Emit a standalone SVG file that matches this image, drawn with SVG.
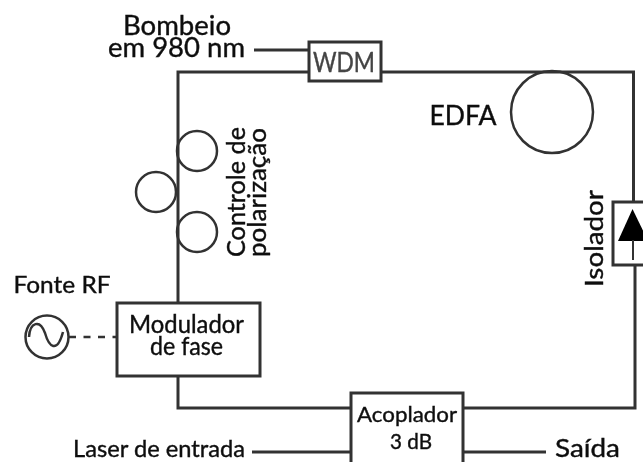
<svg xmlns="http://www.w3.org/2000/svg" width="643" height="462" viewBox="0 0 643 462">
<style>
.l{fill:none;stroke:#333;stroke-width:3}
.c{fill:none;stroke:#333;stroke-width:2.5}
.b{fill:#fff;stroke:#333;stroke-width:3}
text{font-family:Lato,"Open Sans",sans-serif;fill:#111;stroke:#111;stroke-width:0.4;text-anchor:middle}
</style>
<defs><filter id="soft" x="0" y="0" width="100%" height="100%"><feGaussianBlur stdDeviation="0.5"/></filter></defs>
<rect width="643" height="462" fill="#fff"/>
<g filter="url(#soft)">
<g id="connectors">
<path class="l" d="M309 72H178V303M178 376V408H351M463 408H635V265M633.500 202V72H381"/>
<path class="l" d="M254 50H309"/>
<path class="l" d="M252 452H351M463 452H546"/>
<path class="c" d="M69 337H116" stroke-dasharray="7 7.500"/>
</g>
<g id="wdm"><rect class="b" x="309" y="42" width="72" height="39"/><text x="344" y="72" font-size="26" style="fill:#444;stroke:#444" textLength="62" lengthAdjust="spacingAndGlyphs">WDM</text></g>
<g id="bombeio"><text x="177" y="35" font-size="27" textLength="108" lengthAdjust="spacingAndGlyphs">Bombeio</text><text x="176.500" y="57" font-size="27" textLength="137" lengthAdjust="spacingAndGlyphs">em 980 nm</text></g>
<g id="edfa"><circle class="c" cx="552" cy="112" r="41"/><text x="463" y="125" font-size="27" textLength="67" lengthAdjust="spacingAndGlyphs">EDFA</text></g>
<g id="polarization"><circle class="c" cx="197" cy="151" r="20"/><circle class="c" cx="156" cy="192" r="20"/><circle class="c" cx="197" cy="232" r="20"/>
<text transform="translate(245 192) rotate(-90)" font-size="25" textLength="130" lengthAdjust="spacingAndGlyphs">Controle de</text>
<text transform="translate(266 192.500) rotate(-90)" font-size="25" textLength="129" lengthAdjust="spacingAndGlyphs">polarização</text></g>
<g id="isolator"><text transform="translate(603 238.500) rotate(-90)" font-size="25" textLength="97" lengthAdjust="spacingAndGlyphs">Isolador</text><rect class="b" x="613" y="202" width="33" height="63"/><path d="M632.500 209L618 241H648Z" fill="#000"/><path d="M633 240V260" stroke="#333" stroke-width="2"/></g>
<g id="fonte-rf"><text x="62" y="293" font-size="24" textLength="97" lengthAdjust="spacingAndGlyphs">Fonte RF</text><circle class="c" cx="47" cy="337" r="21.500"/><path d="M29 337C30 322 40 319 45 333C49 347 57 354 63 332" fill="none" stroke="#333" stroke-width="2.500"/></g>
<g id="modulador"><rect class="b" x="117" y="303" width="143" height="73"/><text x="186.500" y="333" font-size="25" textLength="115" lengthAdjust="spacingAndGlyphs">Modulador</text><text x="186.500" y="355" font-size="25" textLength="73" lengthAdjust="spacingAndGlyphs">de fase</text></g>
<g id="acoplador"><path class="b" d="M351 465V393H463V465"/><text x="407" y="422" font-size="22" textLength="100" lengthAdjust="spacingAndGlyphs">Acoplador</text><text x="411" y="449" font-size="21" textLength="42" lengthAdjust="spacingAndGlyphs">3 dB</text></g>
<g id="laser"><text x="159" y="456.500" font-size="24" textLength="172" lengthAdjust="spacingAndGlyphs">Laser de entrada</text></g>
<g id="saida"><text x="587.500" y="456.500" font-size="25" textLength="65" lengthAdjust="spacingAndGlyphs">Saída</text></g>
</g>
</svg>
